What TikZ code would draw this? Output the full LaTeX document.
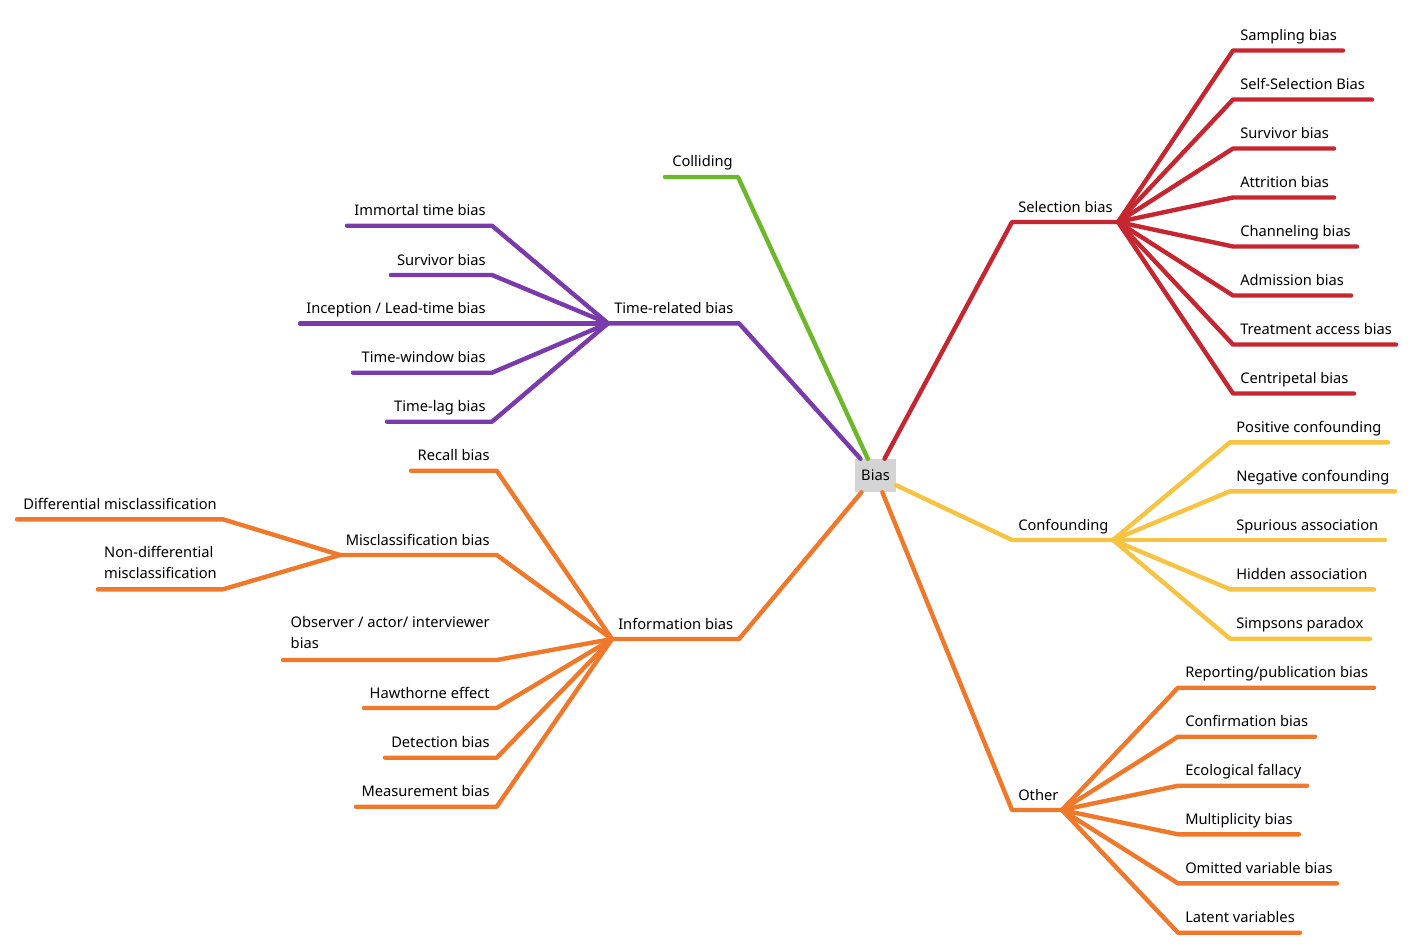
\documentclass[tikz,border=0pt]{standalone}
\usepackage{fontspec}
\setmainfont{Noto Sans}
\usepackage{tikz}
\usetikzlibrary{positioning}

\definecolor{selred}{RGB}{198,38,48}
\definecolor{confyellow}{RGB}{246,195,66}
\definecolor{othorange}{RGB}{240,120,42}
\definecolor{timepurple}{RGB}{122,58,172}
\definecolor{collgreen}{RGB}{108,184,44}

\begin{document}
\begin{tikzpicture}[x=0.75pt,y=-0.75pt,
    branch/.style={line width=3.3pt, line cap=round, line join=round},
    leaf/.style={inner sep=0pt, font=\fontsize{11}{15.75}\selectfont},
    root/.style={fill=black!17, minimum width=30.75pt, minimum height=24.75pt, inner sep=0pt, font=\fontsize{11}{15.75}\selectfont}]
        \useasboundingbox (0,0) rectangle (1414,951);

        \node[root] (bias) at (875.5,475.5) {Bias};

        % selection bias
        \coordinate (selk) at (1012,222);
        \coordinate (selhub) at (1118,222);
        \node[leaf, anchor=base west] (sel) at (1018,212) {Selection bias};
        \draw[branch, selred] (bias) -- (selk) -- (selhub);
        \foreach \i/\y/\e/\t in {1/50.5/1343/Sampling bias, 2/99.5/1372/Self-Selection Bias,
            3/148.5/1334/Survivor bias, 4/197.5/1334/Attrition bias, 5/246.5/1357/Channeling bias,
            6/295.5/1351/Admission bias, 7/344.5/1396/Treatment access bias, 8/393.5/1354/Centripetal bias}
        {
        \coordinate (selk\i) at (1233,\y);
        \coordinate (sele\i) at (\e,\y);
        \node[leaf, anchor=base west] (sel\i) at (1240,\y-10) {\t};
        \draw[branch, selred] (selhub) -- (selk\i) -- (sele\i);
        }

        % confounding
        \coordinate (confk) at (1012,540);
        \coordinate (confhub) at (1113,540);
        \node[leaf, anchor=base west] (conf) at (1018,530) {Confounding};
        \draw[branch, confyellow] (bias) -- (confk) -- (confhub);
        \foreach \i/\y/\e/\t in {1/442.3/1388/Positive confounding, 2/491.3/1395/Negative confounding,
            3/540/1385/Spurious association, 4/589.3/1374/Hidden association, 5/638.7/1370/Simpsons paradox}
        {
        \coordinate (confk\i) at (1230,\y);
        \coordinate (confe\i) at (\e,\y);
        \node[leaf, anchor=base west] (conf\i) at (1236,\y-10) {\t};
        \draw[branch, confyellow] (confhub) -- (confk\i) -- (confe\i);
        }

        % other
        \coordinate (othk) at (1012,810);
        \coordinate (othhub) at (1062,810);
        \node[leaf, anchor=base west] (oth) at (1018,800) {Other};
        \draw[branch, othorange] (bias) -- (othk) -- (othhub);
        \foreach \i/\y/\e/\t in {1/687.7/1374/{Reporting/publication bias}, 2/736.7/1315/Confirmation bias,
            3/785.7/1307/Ecological fallacy, 4/834.3/1299/Multiplicity bias, 5/883.3/1337/Omitted variable bias,
            6/932.7/1300/Latent variables}
        {
        \coordinate (othk\i) at (1178,\y);
        \coordinate (othe\i) at (\e,\y);
        \node[leaf, anchor=base west] (oth\i) at (1185,\y-10) {\t};
        \draw[branch, othorange] (othhub) -- (othk\i) -- (othe\i);
        }

        % colliding
        \coordinate (collk) at (738,177);
        \coordinate (colle) at (665,177);
        \node[leaf, anchor=base west] (coll) at (672,166.5) {Colliding};
        \draw[branch, collgreen] (bias) -- (collk) -- (colle);

        % time-related bias
        \coordinate (timek) at (739,323.3);
        \coordinate (timehub) at (608,323.3);
        \node[leaf, anchor=base west] (time) at (614,313.3) {Time-related bias};
        \draw[branch, timepurple] (bias) -- (timek) -- (timehub);
        \foreach \i/\y/\e/\t in {1/225.7/347/Immortal time bias, 2/275/391/Survivor bias,
            3/323.3/300/{Inception / Lead-time bias}, 4/372.7/353/Time-window bias, 5/421.7/387/Time-lag bias}
        {
        \coordinate (timek\i) at (492,\y);
        \coordinate (timee\i) at (\e,\y);
        \node[leaf, anchor=base east] (time\i) at (486,\y-10) {\t};
        \draw[branch, timepurple] (timehub) -- (timek\i) -- (timee\i);
        }

        % information bias
        \coordinate (infok) at (739,639);
        \coordinate (infohub) at (612,639);
        \node[leaf, anchor=base west] (info) at (618,629) {Information bias};
        \draw[branch, othorange] (bias) -- (infok) -- (infohub);
        \foreach \i/\y/\e/\t in {1/470.7/411/Recall bias, 2/555/340/Misclassification bias,
            4/708/364/Hawthorne effect, 5/757.7/385/Detection bias, 6/806.7/356/Measurement bias}
        {
        \coordinate (infok\i) at (496.7,\y);
        \coordinate (infoe\i) at (\e,\y);
        \node[leaf, anchor=base east] (info\i) at (490,\y-10) {\t};
        \draw[branch, othorange] (infohub) -- (infok\i) -- (infoe\i);
        }
        \coordinate (infok3) at (496.7,660);
        \coordinate (infoe3) at (283,660);
        \node[leaf, align=left, anchor=south east] (info3) at (490,648.5) {Observer / actor/\ interviewer\\bias};
        \draw[branch, othorange] (infohub) -- (infok3) -- (infoe3);

        % misclassification
        \coordinate (misk1) at (223,519.3);
        \coordinate (mise1) at (17,519.3);
        \node[leaf, anchor=base east] (mis1) at (217,509.3) {Differential misclassification};
        \draw[branch, othorange] (infoe2) -- (misk1) -- (mise1);
        \coordinate (misk2) at (223,589.3);
        \coordinate (mise2) at (98,589.3);
        \node[leaf, align=left, anchor=south east] (mis2) at (217,579.3) {Non-differential\\misclassification};
        \draw[branch, othorange] (infoe2) -- (misk2) -- (mise2);
    \end{tikzpicture}
\end{document}
